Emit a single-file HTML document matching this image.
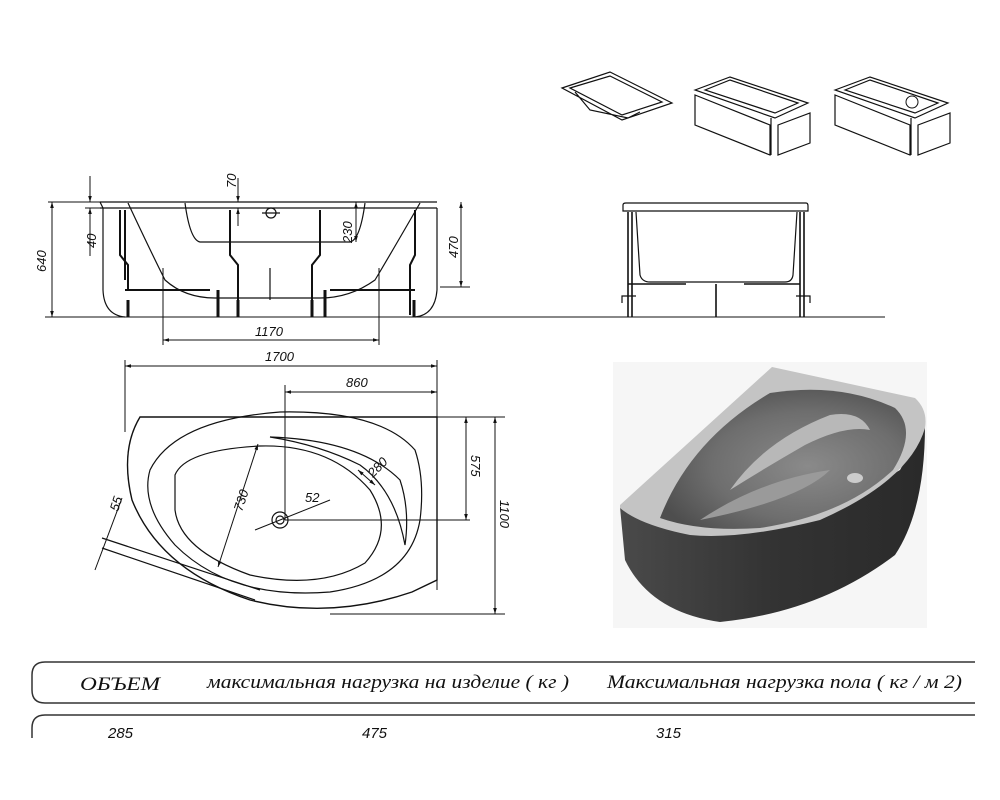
<!DOCTYPE html>
<html><head><meta charset="utf-8"><style>
html,body{margin:0;padding:0;background:#fff;}
svg{display:block}
.t{font-family:"Liberation Sans Narrow","Liberation Sans",sans-serif;font-style:italic;font-size:13px;fill:#111}
.h{font-family:"Liberation Serif",serif;font-style:italic;font-size:19px;fill:#111}
</style></head><body>
<svg width="1000" height="800" viewBox="0 0 1000 800" xmlns="http://www.w3.org/2000/svg">
<defs>
<marker id="a" viewBox="0 0 10 10" refX="10" refY="5" markerWidth="8" markerHeight="6" orient="auto-start-reverse"><path d="M0,2 L10,5 L0,8z" fill="#111"/></marker>
<radialGradient id="bs" cx="0.6" cy="0.55" r="0.65"><stop offset="0" stop-color="#8a8a8a"/><stop offset="0.6" stop-color="#6e6e6e"/><stop offset="1" stop-color="#4e4e4e"/></radialGradient>
<linearGradient id="sk" x1="0" y1="0" x2="1" y2="0"><stop offset="0" stop-color="#4a4a4a"/><stop offset="0.5" stop-color="#333"/><stop offset="1" stop-color="#2a2a2a"/></linearGradient>
</defs>
<g fill="none" stroke="#111" stroke-width="1.2">
<!-- thumbnails -->
<path d="M562,88 L610,72 L672,103 L622,120 Z M570,88 L610,76 L662,102 L622,115 Z M575,92 L590,110 L628,118 L640,112"/>
<path d="M695,90 L730,77 L808,103 L775,118 Z M705,90 L730,80 L798,103 L775,113 Z M695,95 L770,125 L770,155 L695,125 Z M778,125 L810,113 L810,143 L778,155 Z M771,118 L771,155" />
<path d="M835,90 L870,77 L948,103 L915,118 Z M845,90 L870,80 L938,103 L915,113 Z M835,95 L910,125 L910,155 L835,125 Z M918,125 L950,113 L950,143 L918,155 Z M911,118 L911,155"/>
<circle cx="912" cy="102" r="6" stroke-width="1"/>
<path d="M45,317 H885" stroke-width="1"/>
<!-- left side view -->
<path d="M100,202 H437 M100,208 H437 M100,202 L103,208"/>
<path d="M103,208 L103,290 Q104,315 125,317 M437,208 L437,290 Q435,315 415,317" />
<path d="M128,203 Q150,250 165,280 Q185,298 215,298 H320 Q350,298 375,280 Q390,255 420,203"/>
<path d="M185,203 Q190,240 200,242 H350 Q360,240 365,203"/>
<path d="M125,210 V280 M120,210 V255 L128,265 V290 M230,210 V255 L238,265 V315 M320,210 V255 L312,265 V315 M415,210 V255 L410,265 V315" stroke-width="2"/>
<path d="M125,290 H210 M330,290 H415" stroke-width="2"/>
<path d="M128,300 V317 M218,290 V317 M238,300 V317 M312,300 V317 M325,290 V317 M414,300 V317" stroke-width="3"/>
<path d="M270,268 V300 M262,213 H280"/><circle cx="271" cy="213" r="5"/>
<g stroke-width="1">
<path d="M48,202 H100 M48,317 H100"/>
<path d="M52,202 V317" marker-start="url(#a)" marker-end="url(#a)"/>
<path d="M90,176 V202" marker-end="url(#a)"/><path d="M90,256 V208" marker-end="url(#a)"/><path d="M85,208 H100"/>
<path d="M238,178 V202" marker-end="url(#a)"/><path d="M238,226 V208" marker-end="url(#a)"/>
<path d="M356,202 V242" marker-start="url(#a)" marker-end="url(#a)"/>
<path d="M440,287 H470"/><path d="M461,202 V287" marker-start="url(#a)" marker-end="url(#a)"/>
<path d="M163,268 V345 M379,268 V345"/><path d="M163,340 H379" marker-start="url(#a)" marker-end="url(#a)"/>
</g>
<!-- right side view -->
<path d="M623,205 Q623,203 626,203 H806 Q808,203 808,206 V211 H623 Z"/>
<path d="M636,212 L640,275 Q642,282 650,282 H785 Q792,282 793,275 L797,212"/>
<path d="M628,212 V317 M632,212 V317 M800,212 V317 M804,212 V317 M716,284 V317 M628,284 H686 M744,284 H800" stroke-width="1.6"/>
<path d="M622,303 V296 H636 M810,303 V296 H796"/>
<!-- plan view -->
<g stroke-width="1">
<path d="M125,360 V432 M437,360 V590 M285,385 V520"/>
<path d="M125,366 H437" marker-start="url(#a)" marker-end="url(#a)"/>
<path d="M285,392 H437" marker-start="url(#a)" marker-end="url(#a)"/>
<path d="M437,417 H505 M285,520 H470 M330,614 H505"/>
<path d="M466,417 V520" marker-start="url(#a)" marker-end="url(#a)"/>
<path d="M495,417 V614" marker-start="url(#a)" marker-end="url(#a)"/>
<path d="M258,444 L218,567" marker-start="url(#a)" marker-end="url(#a)"/>
<path d="M255,530 L330,500"/><path d="M375,485 L358,470" marker-start="url(#a)" marker-end="url(#a)"/>
<path d="M122,498 L95,570"/>
</g>
<path d="M140,417 H437 V580 L412,592 Q330,620 250,600 Q160,570 132,500 Q120,450 140,417 Z" stroke-width="1.4"/>
<path d="M150,470 Q175,420 280,412 Q380,410 415,450 Q425,480 420,520 Q410,580 330,592 Q230,600 175,545 Q140,505 150,470 Z"/>
<path d="M175,475 Q185,450 260,446 Q330,444 370,490 Q395,530 365,563 Q320,590 250,575 Q180,550 175,510 Z"/>
<path d="M270,437 Q360,440 400,480 Q410,510 405,545 Q395,490 360,465 Q320,445 270,437 Z"/>
<path d="M102,538 L260,590 M102,548 L255,600"/>
<circle cx="280" cy="520" r="8"/><circle cx="280" cy="520" r="4"/>
<!-- table -->
<path d="M975,662 H45 Q32,662 32,675 V690 Q32,703 45,703 H975" stroke="#333" stroke-width="1.5"/>
<path d="M975,715 H45 Q32,715 32,728 V738" stroke="#333" stroke-width="1.5"/>
</g>
<!-- 3D render -->
<rect x="613" y="362" width="314" height="266" fill="#f6f6f6"/>
<path d="M620,507 L625,560 Q650,612 720,622 Q820,612 895,555 Q925,510 925,425 L900,470 Q800,530 700,535 Z" fill="url(#sk)"/>
<path d="M620,505 L772,367 L915,398 Q928,410 925,428 Q910,480 820,520 Q740,540 690,535 Q640,525 620,508 Z" fill="#c4c4c4"/>
<path d="M660,518 Q690,440 770,393 Q840,382 895,408 Q918,430 893,470 Q845,515 760,528 Q700,532 660,518 Z" fill="url(#bs)"/>
<path d="M730,490 Q765,440 830,415 Q860,410 870,430 Q845,425 805,445 Q765,468 730,490 Z" fill="#b8b8b8"/>
<ellipse cx="855" cy="478" rx="8" ry="5" fill="#ccc"/>
<path d="M700,520 Q760,480 830,470 Q800,500 700,520 Z" fill="#9a9a9a"/>
<g class="t">
<text transform="translate(46,272) rotate(-90)">640</text>
<text transform="translate(96,248) rotate(-90)">40</text>
<text transform="translate(236,188) rotate(-90)">70</text>
<text transform="translate(352,243) rotate(-90)">230</text>
<text transform="translate(458,258) rotate(-90)">470</text>
<text x="255" y="336">1170</text>
<text x="265" y="361">1700</text>
<text x="346" y="387">860</text>
<text transform="translate(471,455) rotate(90)">575</text>
<text transform="translate(500,500) rotate(90)">1100</text>
<text transform="translate(242,512) rotate(-72)">730</text>
<text transform="translate(373,478) rotate(-45)">280</text>
<text x="305" y="502">52</text>
<text transform="translate(118,512) rotate(-72)">55</text>
<text x="108" y="738" font-size="15">285</text>
<text x="362" y="738" font-size="15">475</text>
<text x="656" y="738" font-size="15">315</text>
</g>
<g class="h">
<text x="80" y="690" textLength="80" lengthAdjust="spacingAndGlyphs">ОБЪЕМ</text>
<text x="207" y="688" textLength="362" lengthAdjust="spacingAndGlyphs">максимальная нагрузка на изделие ( кг )</text>
<text x="607" y="688" textLength="355" lengthAdjust="spacingAndGlyphs">Максимальная нагрузка пола ( кг / м 2)</text>
</g>
</svg>
</body></html>
